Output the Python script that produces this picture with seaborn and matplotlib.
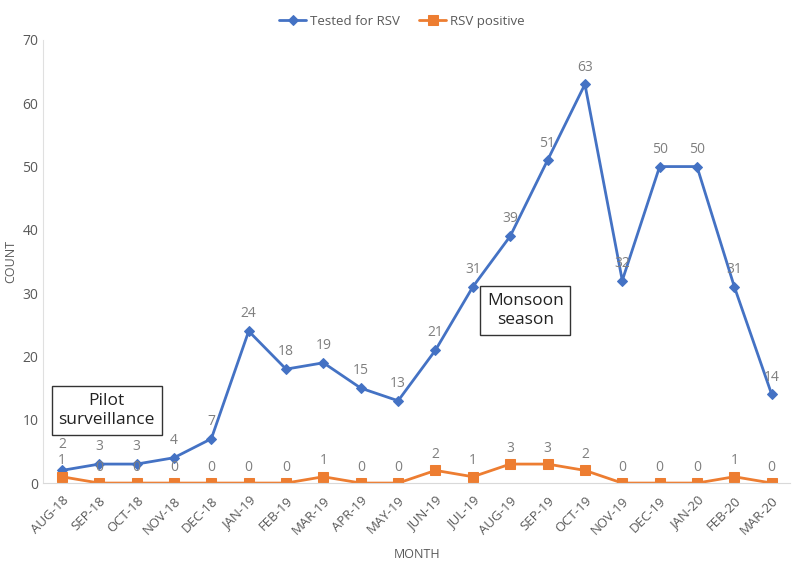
import pandas as pd
import seaborn as sns
import matplotlib.pyplot as plt

# Данные
months = ["AUG-18", "SEP-18", "OCT-18", "NOV-18", "DEC-18", "JAN-19", "FEB-19",
          "MAR-19", "APR-19", "MAY-19", "JUN-19", "JUL-19", "AUG-19", "SEP-19",
          "OCT-19", "NOV-19", "DEC-19", "JAN-20", "FEB-20", "MAR-20"]
tested = [2, 3, 3, 4, 7, 24, 18, 19, 15, 13, 21, 31, 39, 51, 63, 32, 50, 50, 31, 14]
positive = [1, 0, 0, 0, 0, 0, 0, 1, 0, 0, 2, 1, 3, 3, 2, 0, 0, 0, 1, 0]

df = pd.DataFrame({"MONTH": months, "tested": tested, "positive": positive})
df["idx"] = range(len(months))

sns.set_style("white")
plt.rcParams["font.family"] = ["Open Sans", "DejaVu Sans"]

blue = "#4472C4"
orange = "#ED7D31"
grey = "#7F7F7F"

fig = plt.figure(figsize=(8, 5.71), dpi=100)
ax = fig.add_axes([0.054, 0.154, 0.934, 0.776])

sns.lineplot(data=df, x="idx", y="tested", ax=ax, color=blue, marker="D",
             markersize=5, linewidth=2, markeredgecolor=blue, label="Tested for RSV")
sns.lineplot(data=df, x="idx", y="positive", ax=ax, color=orange, marker="s",
             markersize=7, linewidth=2, markeredgecolor=orange, label="RSV positive")

# подписи значений
for i, v in enumerate(tested):
    off = 13 if i == 0 else 7
    ax.annotate(str(v), (i, v), xytext=(0, off), textcoords="offset points",
                ha="center", va="bottom", fontsize=10, color=grey)
for i, v in enumerate(positive):
    ax.annotate(str(v), (i, v), xytext=(0, 6), textcoords="offset points",
                ha="center", va="bottom", fontsize=10, color=grey)

ax.set_xlim(-0.5, len(months) - 0.5)
ax.set_ylim(0, 70)
ax.set_yticks(range(0, 71, 10))
ax.set_xticks(df["idx"])
ax.set_xticklabels(months, rotation=45, ha="right", rotation_mode="anchor",
                   fontsize=9.5, color="#595959")
ax.tick_params(axis="y", labelsize=10, labelcolor="#595959", length=0)
ax.tick_params(axis="x", length=0, pad=8)
ax.set_xlabel("MONTH", fontsize=9, color="#595959", labelpad=8)
ax.set_ylabel("COUNT", fontsize=9, color="#595959")

for s in ["top", "right"]:
    ax.spines[s].set_visible(False)
ax.spines["left"].set_color("#E0E0E0")
ax.spines["bottom"].set_color("#D9D9D9")

box = dict(boxstyle="square,pad=0.4", facecolor="white", edgecolor="#333333", linewidth=1)
ax.text(1.2, 11.5, "Pilot\nsurveillance", ha="center", va="center", fontsize=12.5,
        color="#222222", bbox=box, linespacing=1.25)
ax.text(12.4, 27.2, "Monsoon\nseason", ha="center", va="center", fontsize=12.5,
        color="#222222", bbox=box, linespacing=1.25)

ax.legend(loc="lower center", bbox_to_anchor=(0.48, 1.0), ncol=2, frameon=False,
          fontsize=9.5, labelcolor="#595959", handlelength=2, handletextpad=0.3,
          columnspacing=1.5)

fig.savefig("out.png", dpi=100)
